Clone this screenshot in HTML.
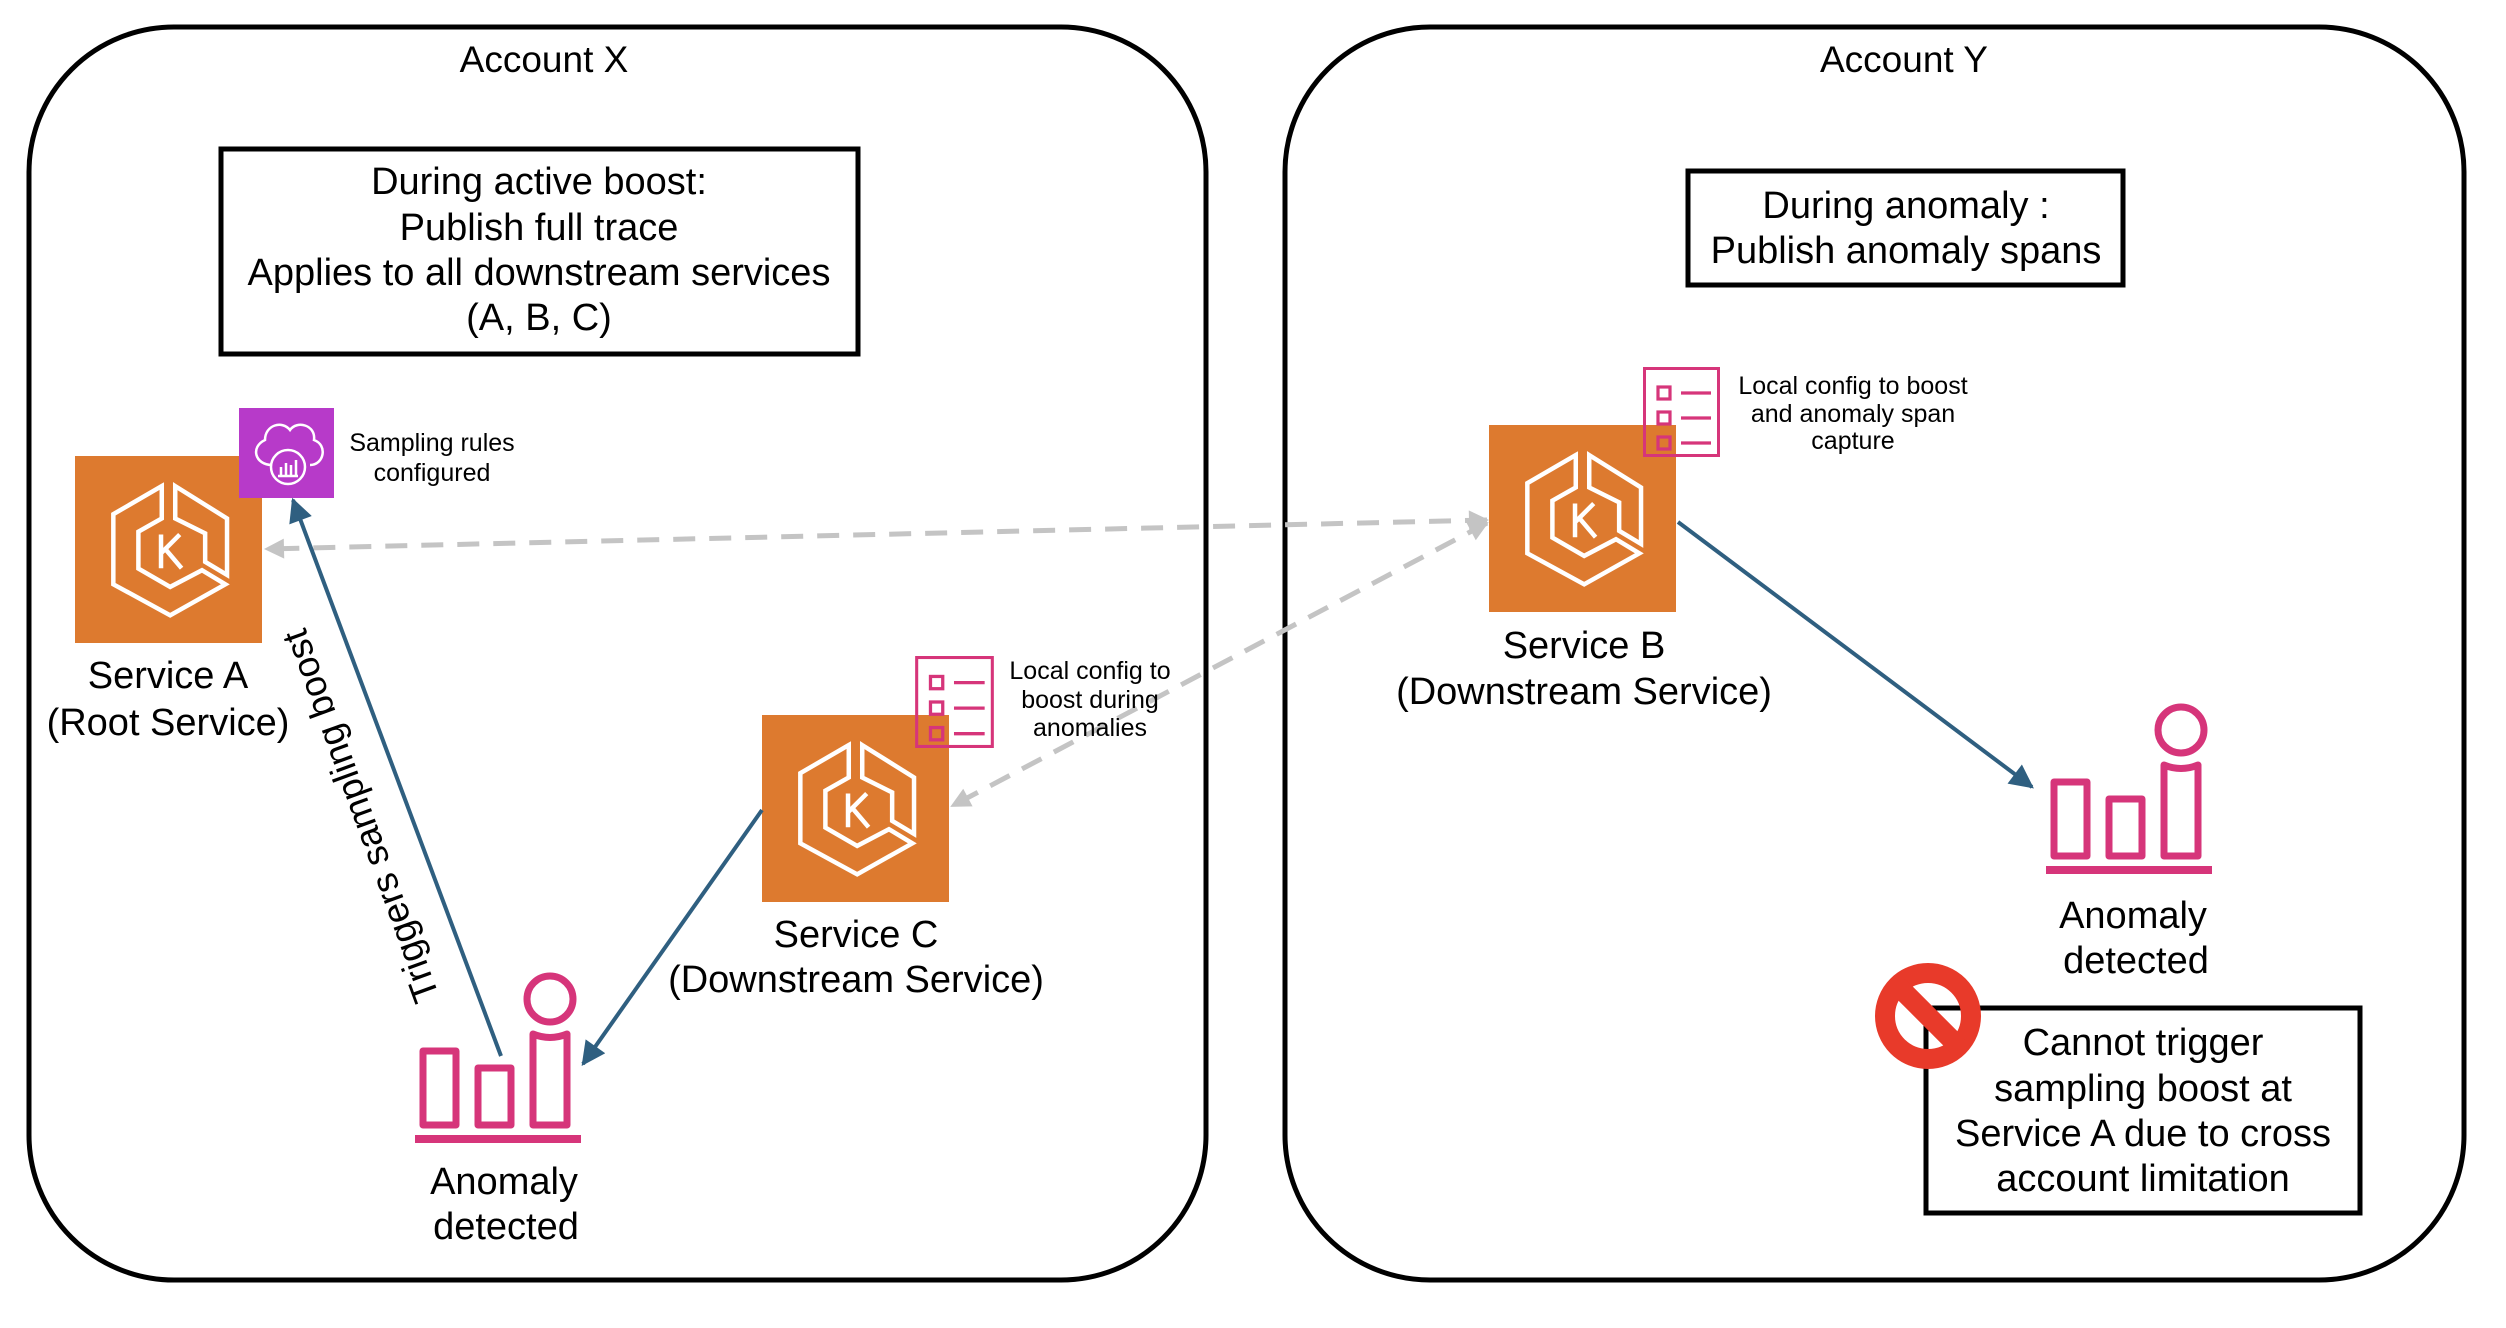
<!DOCTYPE html>
<html><head><meta charset="utf-8"><style>
html,body{margin:0;padding:0;background:#fff}
svg{display:block}
text{font-family:"Liberation Sans",sans-serif;fill:#000}
</style></head><body>
<svg width="2506" height="1328" viewBox="0 0 2506 1328" xmlns="http://www.w3.org/2000/svg">
<defs>
<symbol id="eks" viewBox="0 0 100 100">
<rect width="100" height="100" fill="#DD7A2F"/>
<path d="M46.4,16.1 L20.5,31.1 L20.5,68.6 L50.9,85.2 L80.4,68.6 L67.9,61.1 L50.9,70 L33.9,60.2 L33.9,40.5 L46.4,33.4 Z" fill="none" stroke="#fff" stroke-width="2.4" stroke-linejoin="miter"/>
<path d="M53.6,16.1 L81.3,33.4 L81.3,63.6 L69.6,56.6 L69.6,41.4 L53.6,33.4 Z" fill="none" stroke="#fff" stroke-width="2.4"/>
<path d="M46,42 L46,60 M46,52 L56,42 M48.5,50 L57,60" fill="none" stroke="#fff" stroke-width="2.4"/>
</symbol>
<symbol id="cfg" viewBox="0 0 77 90">
<rect x="1.5" y="1.5" width="74" height="87" fill="none" stroke="#D6357A" stroke-width="3"/>
<g fill="none" stroke="#D6357A" stroke-width="3.2">
<rect x="15" y="20" width="12" height="12"/><rect x="15" y="45" width="12" height="12"/><rect x="15" y="70" width="12" height="12"/>
<path d="M38,26 H68 M38,51 H68 M38,76 H68"/>
</g>
</symbol>
<symbol id="anom" viewBox="0 -170 166 180" overflow="visible">
<g fill="none" stroke="#D6357A" stroke-width="7" stroke-linejoin="round">
<rect x="8" y="-88" width="33" height="74"/>
<rect x="63" y="-71" width="33" height="57"/>
<path d="M118,-105 Q135,-98 152,-105 V-14 H118 Z"/>
<circle cx="135" cy="-140" r="23"/>
</g>
<rect x="0" y="-4" width="166" height="8" fill="#D6357A"/>
</symbol>
<marker id="ag" viewBox="0 0 10 10" refX="9" refY="5" markerWidth="22" markerHeight="20" markerUnits="userSpaceOnUse" orient="auto-start-reverse"><path d="M0,0 L10,5 L0,10 Z" fill="#C4C4C4"/></marker>
<marker id="abl" viewBox="0 0 10 10" refX="9" refY="5" markerWidth="26" markerHeight="24" markerUnits="userSpaceOnUse" orient="auto"><path d="M0,0 L10,5 L0,10 Z" fill="#2F5F80"/></marker>
</defs>

<rect x="29" y="27" width="1177" height="1253" rx="145" fill="none" stroke="#000" stroke-width="5"/>
<rect x="1285" y="27" width="1179" height="1253" rx="145" fill="none" stroke="#000" stroke-width="5"/>
<text x="544" y="72" font-size="37" text-anchor="middle">Account X</text>
<text x="1904" y="72" font-size="37" text-anchor="middle">Account Y</text>

<rect x="221" y="149" width="637" height="205" fill="none" stroke="#000" stroke-width="5"/>
<g font-size="38" text-anchor="middle">
<text x="539" y="194">During active boost:</text>
<text x="539" y="240">Publish full trace</text>
<text x="539" y="285">Applies to all downstream services</text>
<text x="539" y="330">(A, B, C)</text>
</g>

<rect x="1688" y="171" width="435" height="114" fill="none" stroke="#000" stroke-width="5"/>
<g font-size="38" text-anchor="middle">
<text x="1906" y="218">During anomaly :</text>
<text x="1906" y="263">Publish anomaly spans</text>
</g>

<rect x="1926" y="1008" width="434" height="205" fill="none" stroke="#000" stroke-width="5"/>
<g font-size="38" text-anchor="middle">
<text x="2143" y="1055">Cannot trigger</text>
<text x="2143" y="1101">sampling boost at</text>
<text x="2143" y="1146">Service A due to cross</text>
<text x="2143" y="1191">account limitation</text>
</g>
<circle cx="1928" cy="1016" r="43" fill="none" stroke="#E83A2A" stroke-width="20"/>
<line x1="1898" y1="986" x2="1958" y2="1046" stroke="#E83A2A" stroke-width="20"/>

<line x1="1487" y1="520" x2="266" y2="549" stroke="#C4C4C4" stroke-width="5" stroke-dasharray="22,14" marker-start="url(#ag)" marker-end="url(#ag)"/>
<line x1="1487" y1="523" x2="952" y2="806" stroke="#C4C4C4" stroke-width="5" stroke-dasharray="22,14" marker-start="url(#ag)" marker-end="url(#ag)"/>

<use href="#eks" x="75" y="456" width="187" height="187"/>
<use href="#eks" x="762" y="715" width="187" height="187"/>
<use href="#eks" x="1489" y="425" width="187" height="187"/>

<rect x="239" y="408" width="95" height="90" fill="#B73AC9"/>
<g fill="none" stroke="#fff" stroke-width="2.5">
<path d="M272,465 C255,465 250,447 265,440 C265,425 282,420 290,430 C297,420 316,425 314,440 C328,445 324,465 310,465"/>
<circle cx="288" cy="467" r="17"/>
<path d="M281,475 V467 M286,475 V463 M291,475 V465 M296,475 V460 M278,476 H298"/>
</g>
<g font-size="25" text-anchor="middle">
<text x="432" y="451">Sampling rules</text>
<text x="432" y="481">configured</text>
</g>

<use href="#cfg" x="915" y="656" width="79" height="92"/>
<use href="#cfg" x="1643" y="367" width="77" height="90"/>
<g font-size="25" text-anchor="middle">
<text x="1090" y="679">Local config to</text>
<text x="1090" y="708">boost during</text>
<text x="1090" y="736">anomalies</text>
<text x="1853" y="394">Local config to boost</text>
<text x="1853" y="422">and anomaly span</text>
<text x="1853" y="449">capture</text>
</g>

<use href="#anom" x="415" y="969" width="166" height="180"/>
<use href="#anom" x="2046" y="700" width="166" height="180"/>

<g font-size="38" text-anchor="middle">
<text x="168" y="688">Service A</text>
<text x="168" y="735">(Root Service)</text>
<text x="856" y="947">Service C</text>
<text x="856" y="992">(Downstream Service)</text>
<text x="1584" y="658">Service B</text>
<text x="1584" y="704">(Downstream Service)</text>
<text x="504" y="1194">Anomaly</text>
<text x="506" y="1239">detected</text>
<text x="2133" y="928">Anomaly</text>
<text x="2136" y="973">detected</text>
</g>

<line x1="501" y1="1056" x2="293" y2="500" stroke="#2F5F80" stroke-width="4" marker-end="url(#abl)"/>
<line x1="762" y1="810" x2="583" y2="1064" stroke="#2F5F80" stroke-width="4" marker-end="url(#abl)"/>
<line x1="1678" y1="522" x2="2032" y2="787" stroke="#2F5F80" stroke-width="4" marker-end="url(#abl)"/>

<text x="0" y="0" font-size="37" text-anchor="middle" transform="translate(361,816) rotate(-110) translate(0,12)">Triggers sampling boost</text>
</svg>
</body></html>
